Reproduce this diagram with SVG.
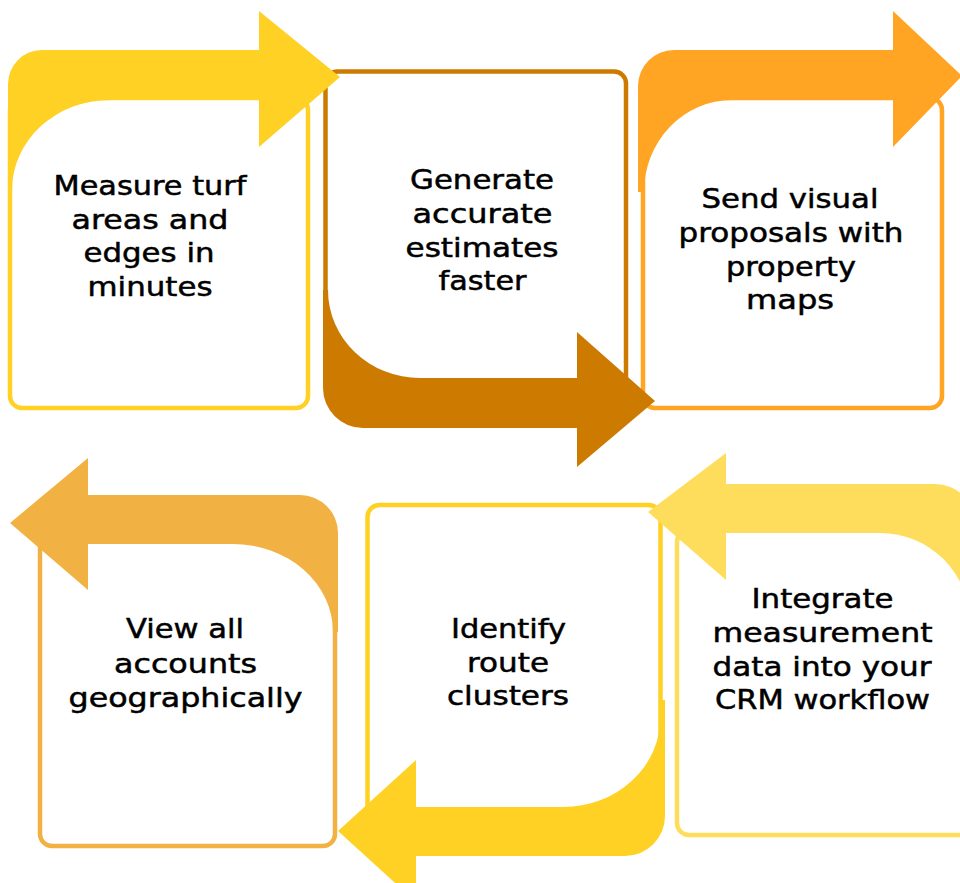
<svg xmlns="http://www.w3.org/2000/svg" width="960" height="883" viewBox="0 0 960 883">
<style>
.box{fill:#fff;stroke-width:4.5}
.t{font-family:"DejaVu Sans","Liberation Sans",sans-serif;font-size:27px;fill:#000;stroke:#000;stroke-width:0.5;text-anchor:middle}
</style>
<rect width="960" height="883" fill="#fff"/>
<g id="connectors"></g>
<g id="node3">
<rect class="box" x="643" y="98" width="299" height="310" rx="12" stroke="#FFA523"/>
<path fill="#FFA523" d="M638,86 A36,36 0 0 1 674,50 L893,50 L893,11 L962,76 L893,147 L893,100 L732,100 A88,92 0 0 0 644,192 L638,192 Z"/>
<text class="t" x="790" y="208" textLength="177" lengthAdjust="spacingAndGlyphs">Send visual</text>
<text class="t" x="791" y="242" textLength="225" lengthAdjust="spacingAndGlyphs">proposals with</text>
<text class="t" x="791" y="275.5" textLength="130" lengthAdjust="spacingAndGlyphs">property</text>
<text class="t" x="790" y="309" textLength="88" lengthAdjust="spacingAndGlyphs">maps</text>
</g>
<g id="node2">
<rect class="box" x="325.5" y="71.5" width="300.5" height="320" rx="12" stroke="#CD7B00" stroke-width="5"/>
<path fill="#CD7B00" d="M323,290 L323,388 A40,40 0 0 0 363,428 L577,428 L577,467 L655,401 L577,332 L577,378 L420,378 A92,88 0 0 1 328,290 Z"/>
<text class="t" x="482" y="189" textLength="144" lengthAdjust="spacingAndGlyphs">Generate</text>
<text class="t" x="482.5" y="223" textLength="140" lengthAdjust="spacingAndGlyphs">accurate</text>
<text class="t" x="482" y="256.5" textLength="153" lengthAdjust="spacingAndGlyphs">estimates</text>
<text class="t" x="482.5" y="290" textLength="88" lengthAdjust="spacingAndGlyphs">faster</text>
</g>
<g id="node1">
<rect class="box" x="10" y="98" width="298" height="310" rx="12" stroke="#FFD124"/>
<path fill="#FFD124" d="M8,84 A34,34 0 0 1 42,50 L259,50 L259,11 L340,77 L259,147 L259,100 L110,100 A98,90 0 0 0 12,190 L8,190 Z"/>
<text class="t" x="150" y="195" textLength="193" lengthAdjust="spacingAndGlyphs">Measure turf</text>
<text class="t" x="150" y="228.5" textLength="157" lengthAdjust="spacingAndGlyphs">areas and</text>
<text class="t" x="149" y="262" textLength="131" lengthAdjust="spacingAndGlyphs">edges in</text>
<text class="t" x="150" y="295.5" textLength="125" lengthAdjust="spacingAndGlyphs">minutes</text>
</g>
<g id="node4">
<rect class="box" x="40" y="530" width="295" height="316" rx="12" stroke="#F2B143"/>
<path fill="#F2B143" d="M88,495 L300,495 A38,38 0 0 1 338,533 L338,632 L333,632 A100,88 0 0 0 233,544 L88,544 L88,590 L10,523 L88,458 Z"/>
<text class="t" x="185" y="638" textLength="118" lengthAdjust="spacingAndGlyphs">View all</text>
<text class="t" x="185.5" y="672.5" textLength="143" lengthAdjust="spacingAndGlyphs">accounts</text>
<text class="t" x="185.5" y="706.5" textLength="234" lengthAdjust="spacingAndGlyphs">geographically</text>
</g>
<g id="node5">
<rect class="box" x="367.5" y="505" width="293" height="320" rx="12" stroke="#FFD124"/>
<path fill="#FFD124" d="M665,700 L665,816 A40,40 0 0 1 625,856 L416,856 L416,902 L338,831 L416,760 L416,807 L563,807 A97,90 0 0 0 660.5,717 L660.5,700 Z"/>
<text class="t" x="508.5" y="638" textLength="115" lengthAdjust="spacingAndGlyphs">Identify</text>
<text class="t" x="508" y="671.5" textLength="82" lengthAdjust="spacingAndGlyphs">route</text>
<text class="t" x="508" y="705" textLength="122" lengthAdjust="spacingAndGlyphs">clusters</text>
</g>
<g id="node6">
<rect class="box" x="677" y="530" width="300" height="305" rx="12" stroke="#FFDD5C"/>
<path fill="#FFDD5C" d="M726,484 L935,484 A40,40 0 0 1 975,524 L975,623 L970,623 A90,90 0 0 0 880,533 L726,533 L726,580 L648,512 L726,453 Z"/>
<text class="t" x="822.5" y="608" textLength="142" lengthAdjust="spacingAndGlyphs">Integrate</text>
<text class="t" x="822.5" y="642" textLength="220" lengthAdjust="spacingAndGlyphs">measurement</text>
<text class="t" x="822" y="675.5" textLength="219" lengthAdjust="spacingAndGlyphs">data into your</text>
<text class="t" x="822.5" y="709" textLength="215" lengthAdjust="spacingAndGlyphs">CRM workflow</text>
</g>
</svg>
